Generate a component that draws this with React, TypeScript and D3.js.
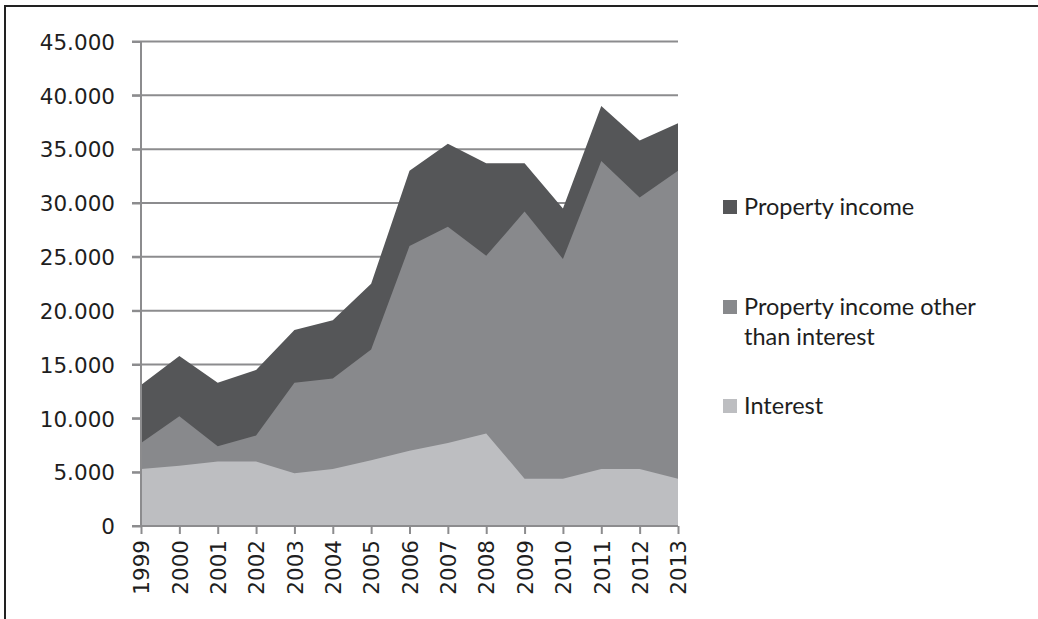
import { useEffect, useRef } from "react";
import * as d3 from "d3";

const years = ["1999", "2000", "2001", "2002", "2003", "2004", "2005", "2006", "2007", "2008", "2009", "2010", "2011", "2012", "2013"];
// top edge of each area
const propertyIncome = [13100, 15800, 13300, 14500, 18200, 19100, 22500, 33000, 35500, 33700, 33700, 29500, 39000, 35800, 37400];
const otherThanInterest = [7700, 10200, 7400, 8400, 13300, 13700, 16400, 26000, 27800, 25100, 29200, 24800, 33900, 30500, 33000];
const interest = [5300, 5600, 6000, 6000, 4900, 5300, 6100, 7000, 7700, 8600, 4400, 4400, 5300, 5300, 4400];
const yTicks = [0, 5000, 10000, 15000, 20000, 25000, 30000, 35000, 40000, 45000];

const seriesNames = ["Property income", "Property income other than interest", "Interest"];
const colors = ["#555658", "#88898c", "#bdbec1"];

const App = () => {
    const ref = useRef<SVGSVGElement>(null);

    useEffect(() => {
        const svg = d3.select(ref.current);
        svg.selectAll("*").remove();

        const x = d3.scalePoint().domain(years).range([141, 678]);
        const y = d3.scaleLinear().domain([0, 45000]).range([526, 41.5]);

        // frame (only top and left show)
        svg.append("path")
            .attr("d", "M5,619 L5,6 L1038,6")
            .attr("fill", "none")
            .attr("stroke", "#222")
            .attr("stroke-width", 2);

        // gridlines
        svg.append("g")
            .selectAll("line")
            .data(yTicks.slice(1))
            .join("line")
            .attr("x1", 132)
            .attr("x2", 678)
            .attr("y1", d => y(d))
            .attr("y2", d => y(d))
            .attr("stroke", "#8c8c8e")
            .attr("stroke-width", 2);

        const all = [propertyIncome, otherThanInterest, interest];
        const area = d3.area<number>()
            .x((d, i) => x(years[i]) as number)
            .y0(y(0))
            .y1(d => y(d));

        svg.append("g")
            .selectAll("path")
            .data(all)
            .join("path")
            .attr("d", d => area(d))
            .attr("fill", (d, i) => colors[i]);

        // y axis
        const yAxis = svg.append("g").attr("transform", "translate(141,0)")
            .call(d3.axisLeft(y).tickValues(yTicks).tickSize(9).tickPadding(17)
                .tickFormat(d => d3.format(",")(d as number).replace(/,/g, ".")));
        yAxis.select(".domain").remove();
        yAxis.selectAll("line").attr("stroke", "#8c8c8e").attr("stroke-width", 2);
        yAxis.selectAll("text")
            .attr("font-family", "DejaVu Sans")
            .attr("font-size", 21.5)
            .attr("fill", "#1e1e1e")
            .attr("dy", "0.36em");
        svg.append("line")
            .attr("x1", 141).attr("x2", 141)
            .attr("y1", y(45000)).attr("y2", y(0))
            .attr("stroke", "#8c8c8e").attr("stroke-width", 2);

        // x axis
        const xAxis = svg.append("g").attr("transform", `translate(0,${y(0)})`)
            .call(d3.axisBottom(x).tickSize(8).tickPadding(0));
        xAxis.select(".domain").attr("stroke", "#8c8c8e").attr("stroke-width", 2)
            .attr("d", "M132,0H678");
        xAxis.selectAll("line").attr("stroke", "#8c8c8e").attr("stroke-width", 2);
        xAxis.selectAll("text")
            .attr("font-family", "DejaVu Sans")
            .attr("font-size", 21.5)
            .attr("fill", "#1e1e1e")
            .attr("transform", "rotate(-90)")
            .attr("text-anchor", "end")
            .attr("x", -14)
            .attr("y", 0)
            .attr("dy", "0.36em");

        // legend
        const legendRows = [
            { lines: ["Property income"], top: 200 },
            { lines: ["Property income other", "than interest"], top: 300 },
            { lines: ["Interest"], top: 399 },
        ];
        const legend = svg.append("g");
        legendRows.forEach((row, i) => {
            legend.append("rect")
                .attr("x", 723).attr("y", row.top)
                .attr("width", 14).attr("height", 14)
                .attr("fill", colors[i]);
            const t = legend.append("text")
                .attr("font-family", "Lato")
                .attr("font-size", 23.5)
                .attr("fill", "#1e1e1e");
            row.lines.forEach((l, j) => {
                t.append("tspan")
                    .attr("x", 744)
                    .attr("y", row.top + 15 + j * 30)
                    .text(l);
            });
        });
    }, []);

    return (
        <svg ref={ref} width={1038} height={619}
            style={{ position: "absolute", left: 0, top: 0, background: "#fff" }} />
    );
};

export default App;
